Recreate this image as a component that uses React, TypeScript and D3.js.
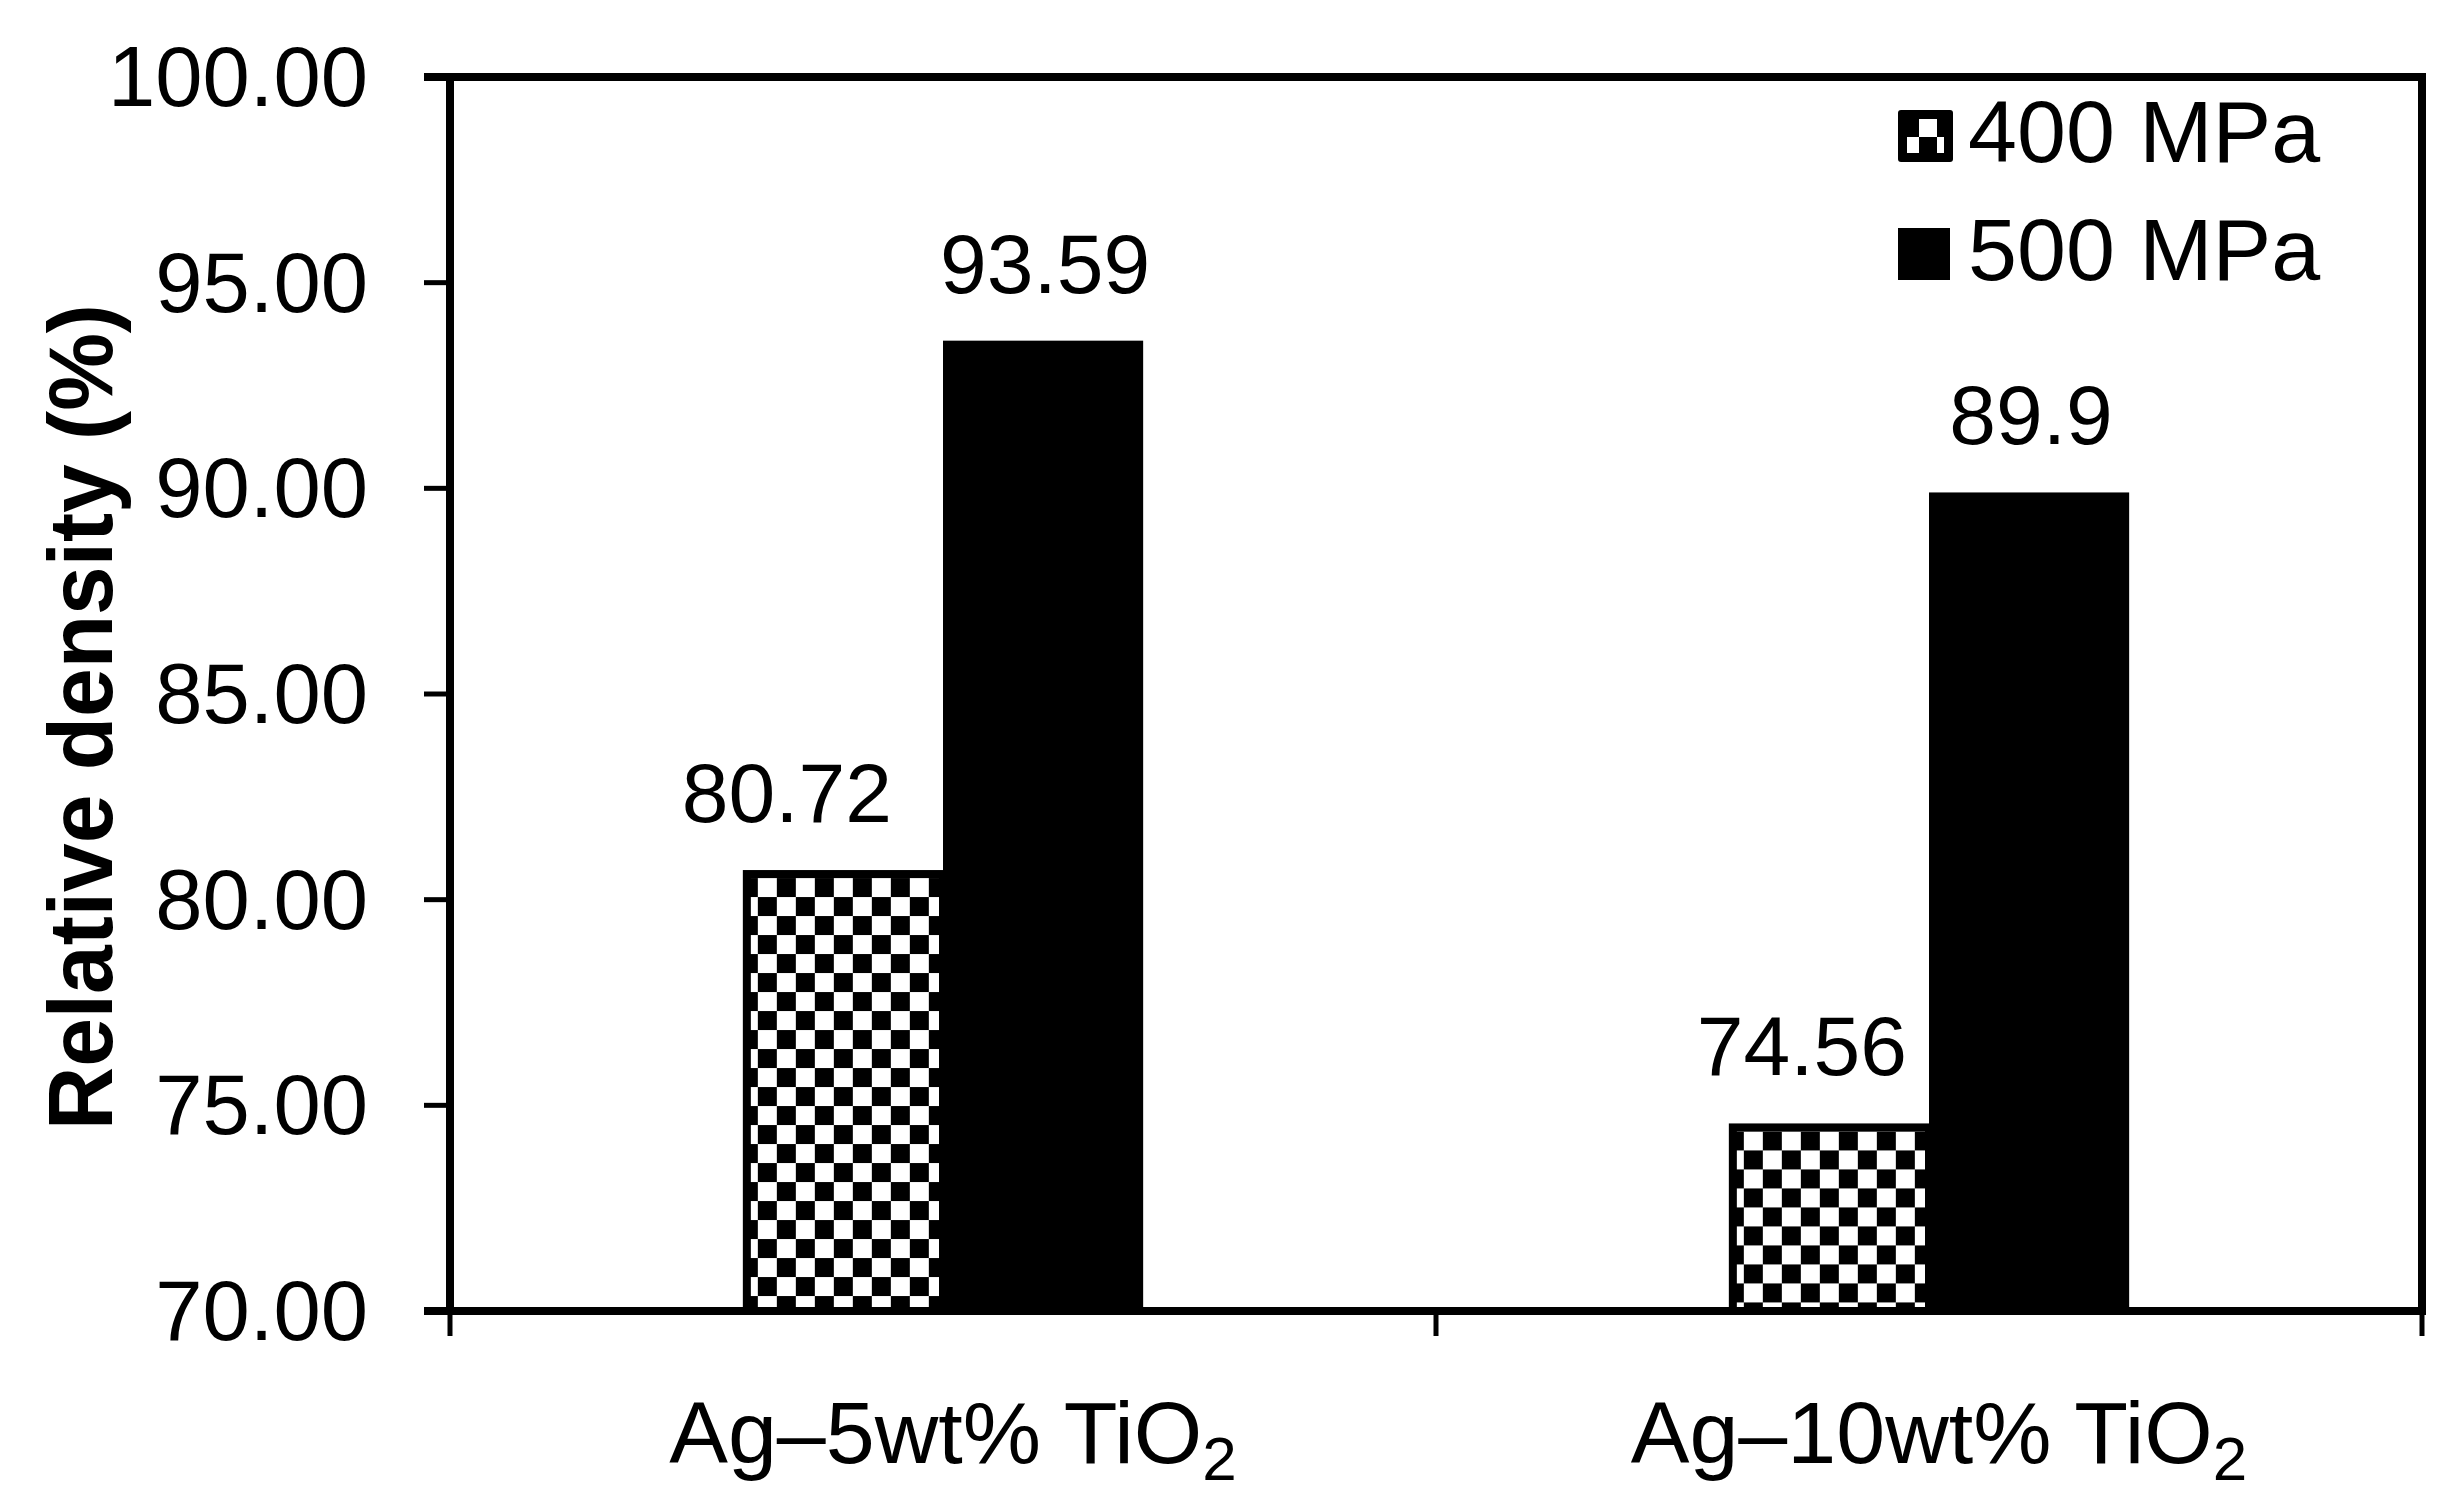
import { scaleBand, scaleLinear, format } from "d3";
import { useEffect } from "react";

const width = 2462;
const height = 1507;

// data
const categories = ["Ag–5wt% TiO", "Ag–10wt% TiO"];
const seriesNames = ["400 MPa", "500 MPa"];
const values400 = [80.72, 74.56];
const values500 = [93.59, 89.9];
const valueLabels = [
  ["80.72", "74.56"],
  ["93.59", "89.9"],
];
const yTicks = [70, 75, 80, 85, 90, 95, 100];

// layout
const margin = { left: 450, right: 40, top: 77, bottom: 196 };
const labelNudge = [
  [-56, -27],
  [2, 2],
];
const font = "'Liberation Sans', Arial, sans-serif";
const cell = 19;

export default function App() {
  useEffect(() => {
    document.body.style.margin = "0";
  }, []);

  const series = [values400, values500];
  const x = scaleBand<string>()
    .domain(categories)
    .range([margin.left, width - margin.right])
    .padding(0);
  const y = scaleLinear()
    .domain([70, 100])
    .range([height - margin.bottom, margin.top]);
  const bw = x.bandwidth() * 0.203;
  const fmt = format(".2f");
  const x0 = margin.left;
  const x1 = width - margin.right;
  const yTop = y(100);
  const yBot = y(70);

  const bars = categories.flatMap((c, ci) =>
    series.map((vals, si) => {
      const center = (x(c) ?? 0) + x.bandwidth() / 2;
      const bx = center - bw + si * bw;
      return { ci, si, bx, by: y(vals[ci]), v: vals[ci], center };
    })
  );

  return (
    <svg
      width={width}
      height={height}
      style={{ display: "block", background: "#fff" }}
      fontFamily={font}
    >
      <defs>
        {bars
          .filter((b) => b.si === 0)
          .map((b) => (
            <pattern
              key={b.ci}
              id={`checker-${b.ci}`}
              patternUnits="userSpaceOnUse"
              x={b.bx + 15}
              y={b.by + 8}
              width={cell * 2}
              height={cell * 2}
            >
              <rect width={cell * 2} height={cell * 2} fill="#fff" />
              <rect x={cell} y={0} width={cell} height={cell} fill="#000" />
              <rect x={0} y={cell} width={cell} height={cell} fill="#000" />
            </pattern>
          ))}
        <pattern
          id="checker-legend"
          patternUnits="userSpaceOnUse"
          x={1901}
          y={101}
          width={36}
          height={36}
        >
          <rect width={36} height={36} fill="#000" />
          <rect x={0} y={0} width={18} height={18} fill="#fff" />
          <rect x={18} y={18} width={18} height={18} fill="#fff" />
        </pattern>
      </defs>

      {/* bars */}
      {bars.map((b) =>
        b.si === 0 ? (
          <rect
            key={`${b.ci}-${b.si}`}
            x={b.bx + 4}
            y={b.by + 4}
            width={bw - 4}
            height={yBot - b.by - 4}
            fill={`url(#checker-${b.ci})`}
            stroke="#000"
            strokeWidth={8}
          />
        ) : (
          <rect
            key={`${b.ci}-${b.si}`}
            x={b.bx}
            y={b.by}
            width={bw}
            height={yBot - b.by}
            fill="#000"
          />
        )
      )}

      {/* value labels */}
      {bars.map((b) => (
        <text
          key={`l-${b.ci}-${b.si}`}
          x={b.bx + bw / 2 + labelNudge[b.si][b.ci]}
          y={b.by - 48}
          textAnchor="middle"
          fontSize={84}
        >
          {valueLabels[b.si][b.ci]}
        </text>
      ))}

      {/* frame */}
      <rect
        x={x0}
        y={yTop}
        width={x1 - x0}
        height={yBot - yTop}
        fill="none"
        stroke="#000"
        strokeWidth={8}
      />

      {/* y axis */}
      {yTicks.map((t) => (
        <g key={t}>
          <line
            x1={x0 - 26}
            x2={x0}
            y1={y(t)}
            y2={y(t)}
            stroke="#000"
            strokeWidth={t === 100 || t === 70 ? 8 : 5}
          />
          <text
            x={368}
            y={y(t)}
            dy="0.34em"
            textAnchor="end"
            fontSize={85}
          >
            {fmt(t)}
          </text>
        </g>
      ))}
      <text
        transform={`translate(112,717) rotate(-90)`}
        textAnchor="middle"
        fontSize={90}
        fontWeight="bold"
        textLength={826}
        lengthAdjust="spacingAndGlyphs"
      >
        Relative density (%)
      </text>

      {/* x axis */}
      {[...categories.map((c) => x(c) ?? 0), x1].map((tx, i) => (
        <line
          key={i}
          x1={tx}
          x2={tx}
          y1={yBot}
          y2={yBot + 25}
          stroke="#000"
          strokeWidth={5}
        />
      ))}
      {categories.map((c) => (
        <text
          key={c}
          x={(x(c) ?? 0) + x.bandwidth() / 2 + 10}
          y={1463}
          textAnchor="middle"
          fontSize={88}
        >
          {c}
          <tspan fontSize={62} dy={17}>
            2
          </tspan>
        </text>
      ))}

      {/* legend */}
      <rect x={1898} y={110} width={55} height={52} rx={3} fill="#000" />
      <rect
        x={1907}
        y={119}
        width={37}
        height={34}
        fill="url(#checker-legend)"
      />
      <rect x={1898} y={228} width={52} height={52} fill="#000" />
      {seriesNames.map((s, i) => (
        <text key={s} x={1968} y={162 + i * 118} fontSize={88}>
          {s}
        </text>
      ))}
    </svg>
  );
}
